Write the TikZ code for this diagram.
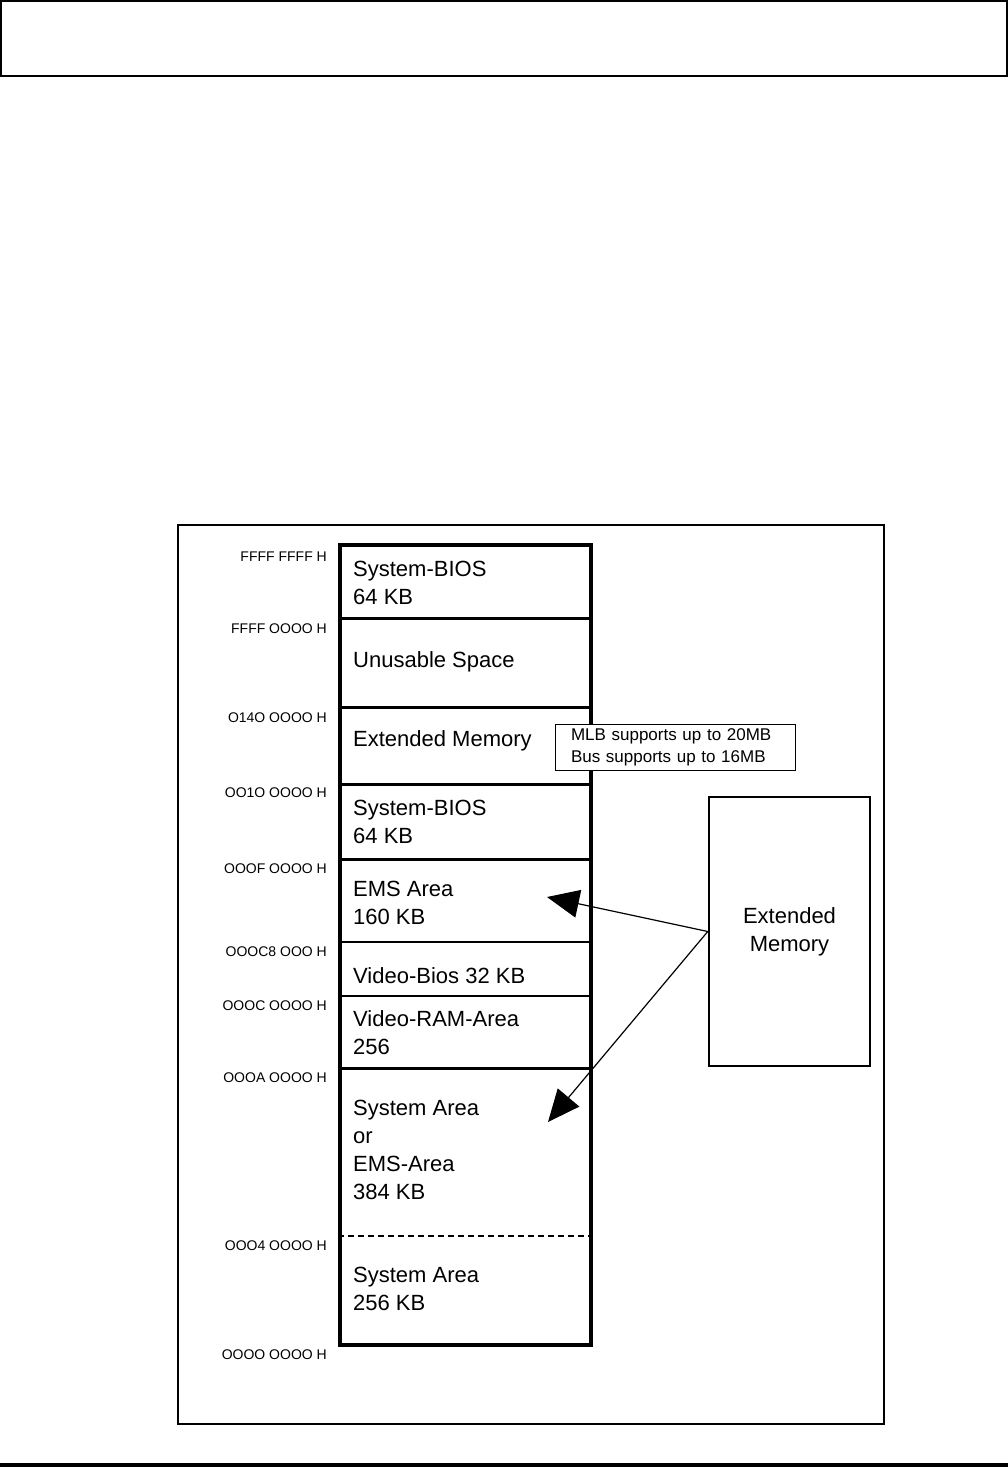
\documentclass[tikz,border=0pt]{standalone}
\usepackage{fontspec}
\setmainfont{Liberation Sans}
\usetikzlibrary{arrows.meta}
\tikzset{
  memtext/.style={anchor=west, align=left, inner sep=0pt, font=\fontsize{22}{28}\selectfont},
  addr/.style={anchor=east, inner sep=0pt, font=\fontsize{14}{16}\selectfont},
  thickdiv/.style={line width=3pt},
  thindiv/.style={line width=1.4pt},
  conn/.style={line width=1.2pt, -{Triangle[length=32pt,width=28pt]}},
}
\begin{document}
\begin{tikzpicture}[x=1pt,y=-1pt]
\useasboundingbox (0,0) rectangle (1008,1467);
% header and footer
\node[draw, line width=2pt, minimum width=1006pt, minimum height=75pt, inner sep=0pt] (header) at (504,38.5) {};
\coordinate (footL) at (0,1465);
\coordinate (footR) at (1008,1465);
\draw[line width=3.5pt] (footL) -- (footR);
% frame
\node[draw, line width=2pt, minimum width=706pt, minimum height=899pt, inner sep=0pt] (frame) at (531,974.5) {};
% memory column
\node[draw, line width=4pt, minimum width=251pt, minimum height=800pt, inner sep=0pt] (col) at (465.5,945) {};
\draw[thickdiv] (col.west |- 0,618) -- (col.east |- 0,618);
\draw[thickdiv] (col.west |- 0,707) -- (col.east |- 0,707);
\draw[thickdiv] (col.west |- 0,784) -- (col.east |- 0,784);
\draw[thickdiv] (col.west |- 0,859) -- (col.east |- 0,859);
\draw[thindiv] (col.west |- 0,942) -- (col.east |- 0,942);
\draw[thindiv] (col.west |- 0,996) -- (col.east |- 0,996);
\draw[thickdiv] (col.west |- 0,1068) -- (col.east |- 0,1068);
\draw[line width=1.5pt, dash pattern=on 6pt off 4pt] (col.west |- 0,1236) -- (col.east |- 0,1236);
% region texts
\node[memtext] (t1) at (353,583) {System-BIOS\\64 KB};
\node[memtext] (t2) at (353,662) {Unusable Space};
\node[memtext] (t3) at (353,741) {Extended Memory};
\node[memtext] (t4) at (353,822) {System-BIOS\\64 KB};
\node[memtext] (t5) at (353,903) {EMS Area\\160 KB};
\node[memtext] (t6) at (353,976) {Video-Bios 32 KB};
\node[memtext] (t7) at (353,1033) {Video-RAM-Area\\256};
\node[memtext] (t8) at (353,1150) {System Area\\or\\EMS-Area\\384 KB};
\node[memtext] (t9) at (353,1289) {System Area\\256 KB};
% address labels
\node[addr] (a1) at (327,557) {FFFF FFFF H};
\node[addr] (a2) at (327,629) {FFFF OOOO H};
\node[addr] (a3) at (327,718) {O14O OOOO H};
\node[addr] (a4) at (327,793) {OO1O OOOO H};
\node[addr] (a5) at (327,869) {OOOF OOOO H};
\node[addr] (a6) at (327,952) {OOOC8 OOO H};
\node[addr] (a7) at (327,1006) {OOOC OOOO H};
\node[addr] (a8) at (327,1078) {OOOA OOOO H};
\node[addr] (a9) at (327,1246) {OOO4 OOOO H};
\node[addr] (a10) at (327,1355) {OOOO OOOO H};
% note box
\node[draw, fill=white, line width=1pt, text width=208pt, inner xsep=16pt, inner ysep=0pt,
      minimum height=46pt, align=left, font=\fontsize{17}{22}\selectfont] (note) at (675,747)
      {MLB supports up to 20MB\\Bus supports up to 16MB};
% extended memory box
\node[draw, line width=2.5pt, minimum width=161pt, minimum height=269pt, inner sep=0pt,
      align=center, font=\fontsize{22}{28}\selectfont] (ext) at (789.5,931.5) {Extended\\Memory};
% arrows
\coordinate (tipA) at (547,897);
\coordinate (tipB) at (548,1122);
\draw[conn] (ext.west) -- (tipA);
\draw[conn] (ext.west) -- (tipB);
\end{tikzpicture}
\end{document}
